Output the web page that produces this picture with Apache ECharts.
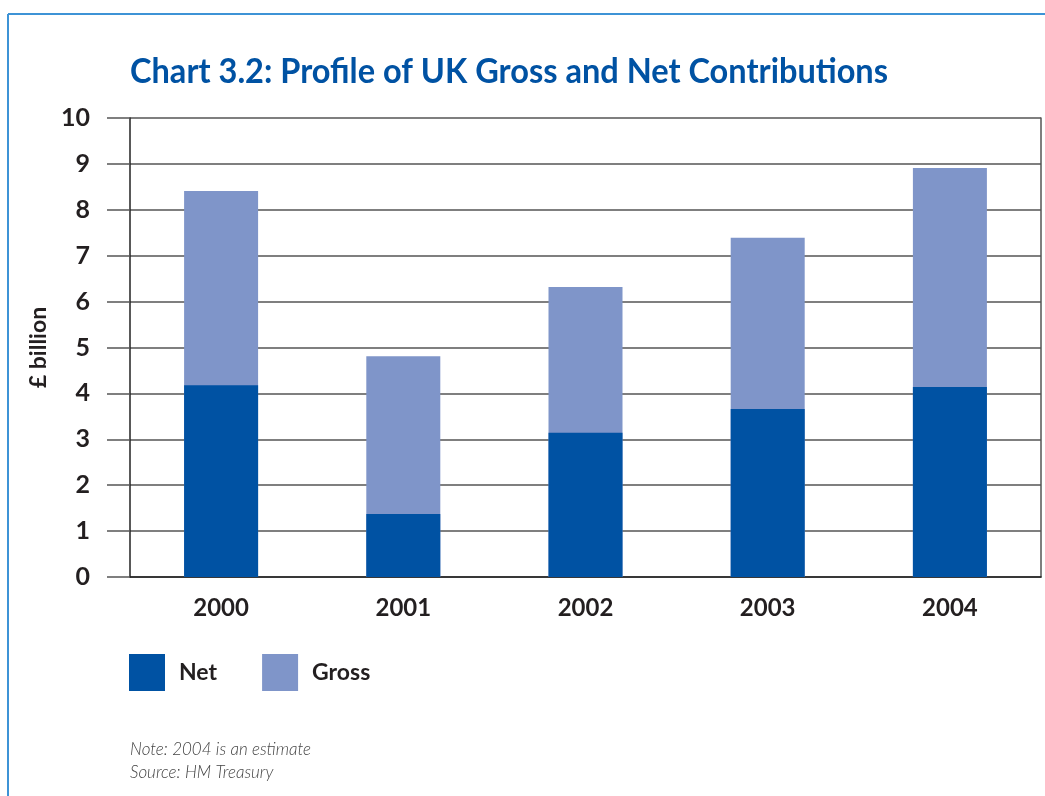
<!DOCTYPE html>
<html>
<head>
<meta charset="utf-8">
<script src="https://cdn.jsdelivr.net/npm/echarts@6/dist/echarts.min.js"></script>
<style>
html,body{margin:0;padding:0;background:#fff;}
#chart{width:1045px;height:796px;}
</style>
</head>
<body>
<div id="chart"></div>
<script>
const years = ['2000', '2001', '2002', '2003', '2004'];
const netValues = [4.18, 1.37, 3.14, 3.66, 4.14];
const grossValues = [8.41, 4.81, 6.32, 7.39, 8.91];
const titleText = 'Chart 3.2: Profile of UK Gross and Net Contributions';

const titleFont = 'bold 35px Lato';
const cv = document.createElement('canvas').getContext('2d');
cv.font = titleFont;
const titleScale = 758 / cv.measureText(titleText).width;

const chart = echarts.init(document.getElementById('chart'));
const labelFont = 'Lato';
chart.setOption({
  backgroundColor: '#ffffff',
  animation: false,
  legend: {
    data: ['Net', 'Gross'],
    left: 124, top: 649,
    icon: 'rect',
    itemWidth: 36, itemHeight: 37, itemGap: 45,
    textStyle: {fontFamily: labelFont, fontWeight: 'bold', fontSize: 23, color: '#231f20', padding: [0, 0, 0, 9]}
  },
  grid: {left: 130, right: 4, top: 118, bottom: 219},
  xAxis: {
    type: 'category',
    data: years,
    axisLine: {show: true, lineStyle: {color: '#222', width: 1.5}},
    axisTick: {show: false},
    axisLabel: {margin: 19, fontFamily: labelFont, fontWeight: 'bold', fontSize: 24, color: '#231f20'}
  },
  yAxis: [{
    type: 'value',
    min: 0, max: 10, interval: 1,
    name: '£ billion',
    nameLocation: 'middle',
    nameGap: 77,
    nameTextStyle: {fontFamily: labelFont, fontWeight: 'bold', fontSize: 23, color: '#231f20'},
    axisLine: {show: true, lineStyle: {color: '#222', width: 1.5}},
    axisTick: {show: true, length: 23, lineStyle: {color: '#555', width: 1.5}},
    axisLabel: {margin: 40, fontFamily: labelFont, fontWeight: 'bold', fontSize: 25, color: '#231f20'},
    splitLine: {show: true, lineStyle: {color: '#555', width: 1.5}}
  }, {
    type: 'value', position: 'right', min: 0, max: 10,
    axisLine: {show: true, lineStyle: {color: '#555', width: 1.5}},
    axisTick: {show: false}, axisLabel: {show: false}, splitLine: {show: false}
  }],
  series: [
    {name: 'Gross', type: 'bar', data: grossValues, barWidth: 74, itemStyle: {color: '#7f95c9'}, z: 2},
    {name: 'Net', type: 'bar', data: netValues, barWidth: 74, barGap: '-100%', itemStyle: {color: '#0052a3'}, z: 3}
  ],
  graphic: [
    {type: 'line', shape: {x1: 8, y1: 14, x2: 1045, y2: 14}, style: {stroke: '#3d93d6', lineWidth: 2}},
    {type: 'line', shape: {x1: 8, y1: 14, x2: 8, y2: 796}, style: {stroke: '#3d93d6', lineWidth: 2}},
    {type: 'text', x: 130, y: 54, scaleX: titleScale, scaleY: 1,
      style: {text: titleText, font: titleFont, fill: '#0052a3'}},
    {type: 'text', left: 130, top: 741, style: {text: 'Note: 2004 is an estimate', font: 'italic 300 17px Lato', fill: '#444'}},
    {type: 'text', left: 130, top: 764, style: {text: 'Source: HM Treasury', font: 'italic 300 17px Lato', fill: '#444'}}
  ]
});
</script>
</body>
</html>
